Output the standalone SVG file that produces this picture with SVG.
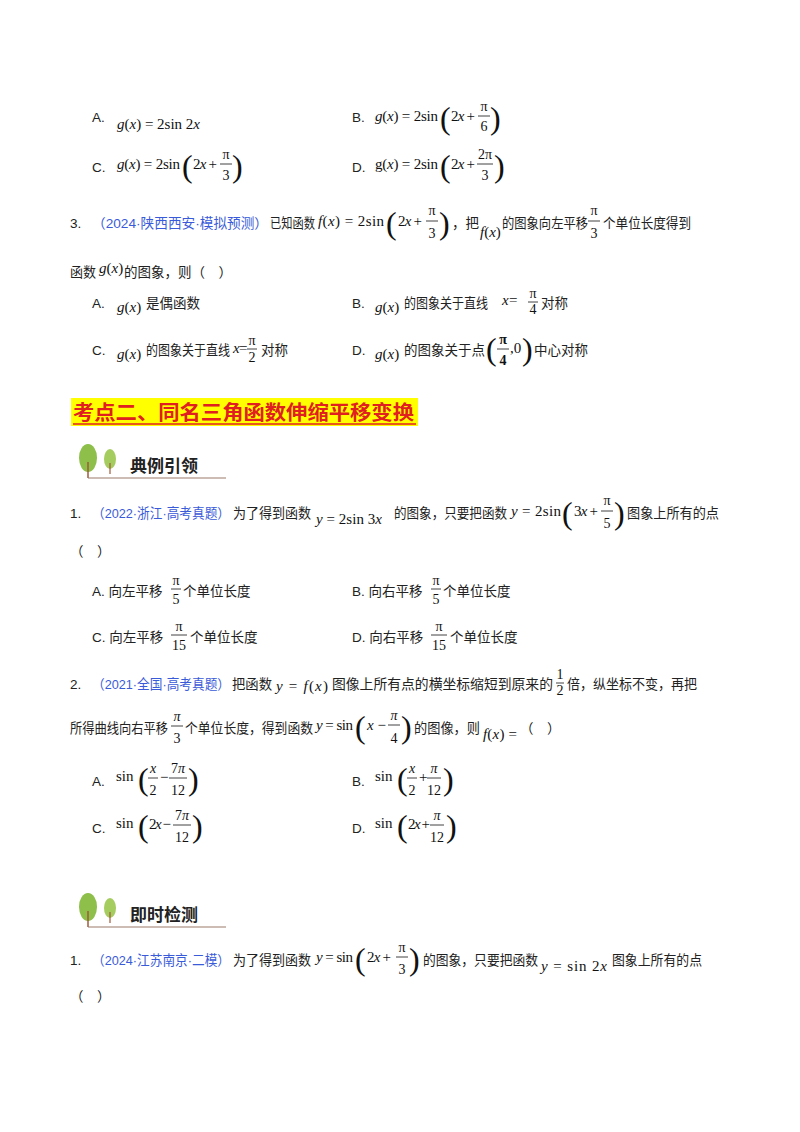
<svg xmlns="http://www.w3.org/2000/svg" width="800" height="1132" viewBox="0 0 800 1132">
<style>
.t{font-family:"Liberation Sans","Noto Sans CJK SC",sans-serif;font-size:13.5px;fill:#222}
.b{fill:#3a5bd9}
.m{font-family:"Liberation Serif",serif;font-size:15px;fill:#111}
.i{font-style:italic}
.f{font-family:"Liberation Serif",serif;font-size:14px;fill:#111;text-anchor:middle}
.p{font-family:"Liberation Serif",serif;font-size:32px;fill:#111}
.l{stroke:#111;stroke-width:0.8}
.h{font-family:"Noto Sans CJK SC",sans-serif;font-size:17px;font-weight:bold;fill:#222}
</style>
<rect width="800" height="1132" fill="#fff"/>
<!-- top options -->
<text class="t" x="92" y="122">A.</text>
<text class="m" x="117" y="129" textLength="83" lengthAdjust="spacing"><tspan class="i">g</tspan>(<tspan class="i">x</tspan>) = 2sin 2<tspan class="i">x</tspan></text>
<text class="t" x="352" y="122">B.</text>
<text class="m" x="375" y="121" textLength="63" lengthAdjust="spacing"><tspan class="i">g</tspan>(<tspan class="i">x</tspan>) = 2sin</text>
<text class="p" x="440" y="129">(</text><text class="m" x="451" y="121" textLength="24" lengthAdjust="spacing">2<tspan class="i">x</tspan> +</text>
<text class="f" x="484" y="111">π</text><line class="l" x1="478" y1="116" x2="490" y2="116"/><text class="f" x="484" y="131">6</text>
<text class="p" x="490" y="129">)</text>
<text class="t" x="92" y="172">C.</text>
<text class="m" x="117" y="169" textLength="63" lengthAdjust="spacing"><tspan class="i">g</tspan>(<tspan class="i">x</tspan>) = 2sin</text>
<text class="p" x="182" y="177">(</text><text class="m" x="193" y="169" textLength="24" lengthAdjust="spacing">2<tspan class="i">x</tspan> +</text>
<text class="f" x="226" y="159">π</text><line class="l" x1="220" y1="164" x2="232" y2="164"/><text class="f" x="226" y="180">3</text>
<text class="p" x="232" y="177">)</text>
<text class="t" x="352" y="172">D.</text>
<text class="m" x="375" y="169" textLength="63" lengthAdjust="spacing">g(<tspan class="i">x</tspan>) = 2sin</text>
<text class="p" x="440" y="177">(</text><text class="m" x="451" y="169" textLength="24" lengthAdjust="spacing">2<tspan class="i">x</tspan> +</text>
<text class="f" x="485" y="159">2π</text><line class="l" x1="477" y1="164" x2="493" y2="164"/><text class="f" x="485" y="180">3</text>
<text class="p" x="494" y="177">)</text>
<!-- Q3 -->
<text class="t" x="70" y="228">3.</text>
<text class="t b" x="92" y="228" textLength="176" lengthAdjust="spacingAndGlyphs">（2024·陕西西安·模拟预测）</text>
<text class="t" x="270" y="228" textLength="45" lengthAdjust="spacingAndGlyphs">已知函数</text>
<text class="m" x="318" y="226" textLength="66" lengthAdjust="spacing"><tspan class="i">f</tspan>(<tspan class="i">x</tspan>) = 2sin</text>
<text class="p" x="386" y="234">(</text><text class="m" x="398" y="226" textLength="24" lengthAdjust="spacing">2<tspan class="i">x</tspan> +</text>
<text class="f" x="432" y="215">π</text><line class="l" x1="426" y1="221" x2="438" y2="221"/><text class="f" x="432" y="238">3</text>
<text class="p" x="439" y="234">)</text>
<text class="t" x="452" y="228">，把</text>
<text class="m" x="480" y="237" font-size="13"><tspan class="i">f</tspan>(<tspan class="i">x</tspan>)</text>
<text class="t" x="502" y="228" textLength="86" lengthAdjust="spacingAndGlyphs">的图象向左平移</text>
<text class="f" x="594" y="215">π</text><line class="l" x1="588" y1="221" x2="600" y2="221"/><text class="f" x="594" y="238">3</text>
<text class="t" x="603" y="228" textLength="88" lengthAdjust="spacingAndGlyphs">个单位长度得到</text>
<text class="t" x="70" y="277" textLength="26" lengthAdjust="spacingAndGlyphs">函数</text>
<text class="m" x="99" y="273"><tspan class="i">g</tspan>(<tspan class="i">x</tspan>)</text>
<text class="t" x="124" y="277">的图象，则（　）</text>
<text class="t" x="92" y="308">A.</text>
<text class="m" x="117" y="312"><tspan class="i">g</tspan>(<tspan class="i">x</tspan>)</text><text class="t" x="146" y="308">是偶函数</text>
<text class="t" x="352" y="308">B.</text>
<text class="m" x="375" y="312"><tspan class="i">g</tspan>(<tspan class="i">x</tspan>)</text><text class="t" x="404" y="308" textLength="84" lengthAdjust="spacingAndGlyphs">的图象关于直线</text>
<text class="m i" x="502" y="305" font-size="11">x</text><text class="m" x="509" y="305" font-size="11">=</text>
<text class="f" x="533" y="298" font-size="11">π</text><line class="l" x1="528" y1="302" x2="538" y2="302"/><text class="f" x="533" y="314" font-size="12">4</text>
<text class="t" x="541" y="308">对称</text>
<text class="t" x="92" y="355">C.</text>
<text class="m" x="117" y="359"><tspan class="i">g</tspan>(<tspan class="i">x</tspan>)</text><text class="t" x="146" y="355" textLength="84" lengthAdjust="spacingAndGlyphs">的图象关于直线</text>
<text class="m i" x="233" y="353" font-size="11">x</text><text class="m" x="239" y="353" font-size="11">=</text>
<text class="f" x="252" y="345" font-size="11">π</text><line class="l" x1="247" y1="349" x2="257" y2="349"/><text class="f" x="252" y="362" font-size="12">2</text>
<text class="t" x="261" y="355">对称</text>
<text class="t" x="352" y="355">D.</text>
<text class="m" x="375" y="359"><tspan class="i">g</tspan>(<tspan class="i">x</tspan>)</text><text class="t" x="404" y="355">的图象关于点</text>
<text class="p" x="486" y="360">(</text>
<text class="f" x="503" y="344" font-weight="bold">π</text><line class="l" x1="497" y1="349" x2="509" y2="349"/><text class="f" x="503" y="365" font-weight="bold">4</text>
<text class="m" x="510" y="353">,0</text><text class="p" x="522" y="360">)</text>
<text class="t" x="534" y="355">中心对称</text>
<!-- heading -->
<rect x="71" y="398" width="347" height="28" fill="#ffff00"/>
<text x="73" y="420" font-family="Noto Sans CJK SC,sans-serif" font-size="20" font-weight="bold" fill="#e02020" textLength="341" lengthAdjust="spacingAndGlyphs">考点二、同名三角函数伸缩平移变换</text>
<line x1="73" y1="424" x2="416" y2="424" stroke="#e02020" stroke-width="1.5"/>
<!-- icon 1 -->
<g id="icon1">
<ellipse cx="88" cy="458" rx="9" ry="14" fill="#8dbf4a"/>
<ellipse cx="110" cy="459" rx="6" ry="10" fill="#a5cc5e"/>
<line x1="88" y1="462" x2="88" y2="478" stroke="#a05a3a" stroke-width="1.5"/>
<line x1="110" y1="463" x2="110" y2="474" stroke="#a05a3a" stroke-width="1.2"/>
<line x1="88" y1="478" x2="226" y2="478" stroke="#9a7a6a" stroke-width="1.2"/>
<text class="h" x="130" y="472">典例引领</text>
</g>
<!-- example Q1 -->
<text class="t" x="70" y="518">1.</text>
<text class="t b" x="92" y="518" textLength="138" lengthAdjust="spacingAndGlyphs">（2022·浙江·高考真题）</text>
<text class="t" x="233" y="518" textLength="78" lengthAdjust="spacingAndGlyphs">为了得到函数</text>
<text class="m" x="316" y="524" textLength="66" lengthAdjust="spacing"><tspan class="i">y</tspan> = 2sin 3<tspan class="i">x</tspan></text>
<text class="t" x="394" y="518" textLength="113" lengthAdjust="spacingAndGlyphs">的图象，只要把函数</text>
<text class="m" x="511" y="516" textLength="50" lengthAdjust="spacing"><tspan class="i">y</tspan> = 2sin</text>
<text class="p" x="562" y="524">(</text><text class="m" x="574" y="516" textLength="24" lengthAdjust="spacing">3<tspan class="i">x</tspan> +</text>
<text class="f" x="607" y="505">π</text><line class="l" x1="601" y1="511" x2="613" y2="511"/><text class="f" x="607" y="528">5</text>
<text class="p" x="614" y="524">)</text>
<text class="t" x="627" y="518" textLength="92" lengthAdjust="spacingAndGlyphs">图象上所有的点</text>
<text class="t" x="70" y="556">（　）</text>
<text class="t" x="92" y="596">A. 向左平移</text>
<text class="f" x="176" y="585">π</text><line class="l" x1="171" y1="589" x2="181" y2="589"/><text class="f" x="176" y="604">5</text>
<text class="t" x="183" y="596">个单位长度</text>
<text class="t" x="352" y="596">B. 向右平移</text>
<text class="f" x="436" y="585">π</text><line class="l" x1="431" y1="589" x2="441" y2="589"/><text class="f" x="436" y="604">5</text>
<text class="t" x="443" y="596">个单位长度</text>
<text class="t" x="92" y="642">C. 向左平移</text>
<text class="f" x="179" y="631">π</text><line class="l" x1="171" y1="635" x2="187" y2="635"/><text class="f" x="179" y="650">15</text>
<text class="t" x="190" y="642">个单位长度</text>
<text class="t" x="352" y="642">D. 向右平移</text>
<text class="f" x="439" y="631">π</text><line class="l" x1="431" y1="635" x2="447" y2="635"/><text class="f" x="439" y="650">15</text>
<text class="t" x="450" y="642">个单位长度</text>
<!-- example Q2 -->
<text class="t" x="70" y="689">2.</text>
<text class="t b" x="92" y="689" textLength="138" lengthAdjust="spacingAndGlyphs">（2021·全国·高考真题）</text>
<text class="t" x="232" y="689" textLength="40" lengthAdjust="spacingAndGlyphs">把函数</text>
<text class="m" x="276" y="691" textLength="52" lengthAdjust="spacing"><tspan class="i">y</tspan> = <tspan class="i">f</tspan>(<tspan class="i">x</tspan>)</text>
<text class="t" x="332" y="689" textLength="221" lengthAdjust="spacingAndGlyphs">图像上所有点的横坐标缩短到原来的</text>
<text class="f" x="560" y="679" font-size="11">1</text><line class="l" x1="556" y1="683" x2="564" y2="683"/><text class="f" x="560" y="695" font-size="12">2</text>
<text class="t" x="567" y="689" textLength="130" lengthAdjust="spacingAndGlyphs">倍，纵坐标不变，再把</text>
<text class="t" x="70" y="733" textLength="98" lengthAdjust="spacingAndGlyphs">所得曲线向右平移</text>
<text class="f i" x="177" y="721">π</text><line class="l" x1="171" y1="726" x2="183" y2="726"/><text class="f" x="177" y="743">3</text>
<text class="t" x="185" y="733" textLength="128" lengthAdjust="spacingAndGlyphs">个单位长度，得到函数</text>
<text class="m" x="316" y="730" textLength="37" lengthAdjust="spacing"><tspan class="i">y</tspan> = sin</text>
<text class="p" x="355" y="738">(</text><text class="m" x="367" y="730" textLength="19" lengthAdjust="spacing"><tspan class="i">x</tspan> −</text>
<text class="f i" x="394" y="720">π</text><line class="l" x1="388" y1="725" x2="400" y2="725"/><text class="f" x="394" y="743">4</text>
<text class="p" x="401" y="738">)</text>
<text class="t" x="414" y="733" textLength="66" lengthAdjust="spacingAndGlyphs">的图像，则</text>
<text class="m" x="483" y="739" textLength="34" lengthAdjust="spacing"><tspan class="i">f</tspan>(<tspan class="i">x</tspan>) =</text>
<text class="t" x="520" y="733">（　）</text>
<text class="t" x="92" y="786">A.</text>
<text class="m" x="116" y="781">sin</text><text class="p" x="138" y="790">(</text>
<text class="f" x="153" y="773" font-style="italic">x</text><line class="l" x1="148" y1="778" x2="158" y2="778"/><text class="f" x="153" y="795">2</text>
<text class="m" x="160" y="782">−</text>
<text class="f" x="178" y="773">7<tspan font-style="italic">π</tspan></text><line class="l" x1="169" y1="778" x2="187" y2="778"/><text class="f" x="178" y="795">12</text>
<text class="p" x="188" y="790">)</text>
<text class="t" x="352" y="786">B.</text>
<text class="m" x="375" y="781">sin</text><text class="p" x="397" y="790">(</text>
<text class="f" x="412" y="773" font-style="italic">x</text><line class="l" x1="407" y1="778" x2="417" y2="778"/><text class="f" x="412" y="795">2</text>
<text class="m" x="419" y="782">+</text>
<text class="f" x="434" y="773" font-style="italic">π</text><line class="l" x1="427" y1="778" x2="441" y2="778"/><text class="f" x="434" y="795">12</text>
<text class="p" x="443" y="790">)</text>
<text class="t" x="92" y="833">C.</text>
<text class="m" x="116" y="828">sin</text><text class="p" x="138" y="837">(</text>
<text class="m" x="149" y="829" textLength="22" lengthAdjust="spacing">2<tspan class="i">x</tspan> −</text>
<text class="f" x="182" y="820">7<tspan font-style="italic">π</tspan></text><line class="l" x1="173" y1="825" x2="191" y2="825"/><text class="f" x="182" y="842">12</text>
<text class="p" x="192" y="837">)</text>
<text class="t" x="352" y="833">D.</text>
<text class="m" x="375" y="828">sin</text><text class="p" x="397" y="837">(</text>
<text class="m" x="408" y="829" textLength="22" lengthAdjust="spacing">2<tspan class="i">x</tspan> +</text>
<text class="f" x="437" y="820" font-style="italic">π</text><line class="l" x1="430" y1="825" x2="444" y2="825"/><text class="f" x="437" y="842">12</text>
<text class="p" x="446" y="837">)</text>
<!-- icon 2 -->
<g id="icon2">
<ellipse cx="88" cy="907" rx="9" ry="14" fill="#8dbf4a"/>
<ellipse cx="110" cy="908" rx="6" ry="10" fill="#a5cc5e"/>
<line x1="88" y1="911" x2="88" y2="927" stroke="#a05a3a" stroke-width="1.5"/>
<line x1="110" y1="912" x2="110" y2="923" stroke="#a05a3a" stroke-width="1.2"/>
<line x1="88" y1="927" x2="226" y2="927" stroke="#9a7a6a" stroke-width="1.2"/>
<text class="h" x="130" y="921">即时检测</text>
</g>
<!-- test Q1 -->
<text class="t" x="70" y="965">1.</text>
<text class="t b" x="92" y="965" textLength="138" lengthAdjust="spacingAndGlyphs">（2024·江苏南京·二模）</text>
<text class="t" x="233" y="965" textLength="78" lengthAdjust="spacingAndGlyphs">为了得到函数</text>
<text class="m" x="316" y="962" textLength="37" lengthAdjust="spacing"><tspan class="i">y</tspan> = sin</text>
<text class="p" x="355" y="970">(</text><text class="m" x="367" y="962" textLength="24" lengthAdjust="spacing">2<tspan class="i">x</tspan> +</text>
<text class="f" x="402" y="952">π</text><line class="l" x1="396" y1="957" x2="408" y2="957"/><text class="f" x="402" y="974">3</text>
<text class="p" x="409" y="970">)</text>
<text class="t" x="423" y="965" textLength="115" lengthAdjust="spacingAndGlyphs">的图象，只要把函数</text>
<text class="m" x="541" y="971" textLength="66" lengthAdjust="spacing"><tspan class="i">y</tspan> = sin 2<tspan class="i">x</tspan></text>
<text class="t" x="612" y="965" textLength="90" lengthAdjust="spacingAndGlyphs">图象上所有的点</text>
<text class="t" x="70" y="1001">（　）</text>
</svg>
